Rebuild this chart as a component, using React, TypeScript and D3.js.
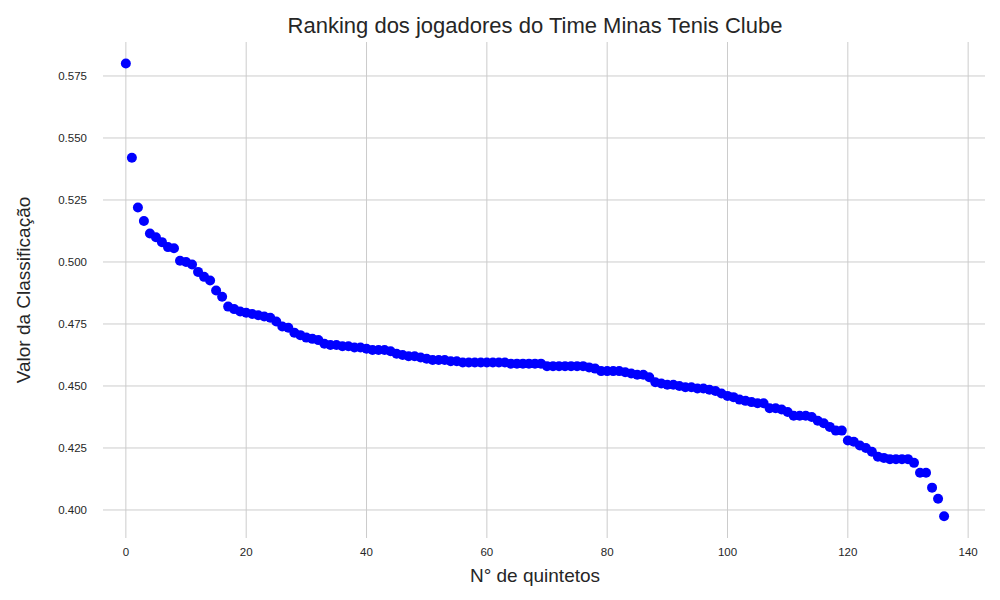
import React from "react";
import * as d3 from "d3";

const values: number[] = [
  0.58, 0.542, 0.522, 0.5165, 0.5115, 0.51, 0.508, 0.506, 0.5055, 0.5005,
  0.5, 0.499, 0.496, 0.494, 0.4925, 0.4885, 0.486, 0.482, 0.481, 0.48,
  0.4795, 0.479, 0.4785, 0.478, 0.4775, 0.476, 0.474, 0.4735, 0.4715, 0.4705,
  0.4695, 0.469, 0.4685, 0.467, 0.4665, 0.4665, 0.466, 0.466, 0.4655, 0.4655,
  0.465, 0.4645, 0.4645, 0.4645, 0.464, 0.463, 0.4625, 0.462, 0.462, 0.4615,
  0.461, 0.4605, 0.4605, 0.4605, 0.46, 0.46, 0.4595, 0.4595, 0.4595, 0.4595,
  0.4595, 0.4595, 0.4595, 0.4595, 0.459, 0.459, 0.459, 0.459, 0.459, 0.459,
  0.458, 0.458, 0.458, 0.458, 0.458, 0.458, 0.458, 0.4575, 0.457, 0.456,
  0.456, 0.456, 0.456, 0.4555, 0.455, 0.4545, 0.4545, 0.4535, 0.4515, 0.451,
  0.4505, 0.4505, 0.45, 0.4495, 0.4495, 0.449, 0.449, 0.4485, 0.448, 0.447,
  0.446, 0.4455, 0.4445, 0.444, 0.4435, 0.443, 0.443, 0.441, 0.441, 0.4405,
  0.4395, 0.438, 0.438, 0.438, 0.4375, 0.436, 0.435, 0.4335, 0.432, 0.432,
  0.428, 0.4275, 0.426, 0.425, 0.4235, 0.4215, 0.421, 0.4205, 0.4205, 0.4205,
  0.4205, 0.419, 0.415, 0.415, 0.409, 0.4045, 0.3975,
];
const xTicks = [0, 20, 40, 60, 80, 100, 120, 140];
const yTicks = [0.4, 0.425, 0.45, 0.475, 0.5, 0.525, 0.55, 0.575];

const W = 1000;
const H = 600;
const font = "'Liberation Sans', Arial, sans-serif";

export default function App() {
  const x = d3.scaleLinear().domain([-3.8, 142.8]).range([103, 985]);
  const y = d3.scaleLinear().domain([0.3887, 0.5887]).range([538, 42]);
  return (
    <svg width={W} height={H} style={{ position: "absolute", left: 0, top: 0 }}>
      <rect width={W} height={H} fill="#fff" />
      {xTicks.map((t) => (
        <g key={"x" + t}>
          <line x1={x(t)} x2={x(t)} y1={42} y2={538} stroke="#cccccc" strokeWidth={1} />
          <text x={x(t)} y={556} textAnchor="middle" fontSize={11.5} fontFamily={font} fill="#262626">
            {t}
          </text>
        </g>
      ))}
      {yTicks.map((t) => (
        <g key={"y" + t}>
          <line x1={103} x2={985} y1={y(t)} y2={y(t)} stroke="#cccccc" strokeWidth={1} />
          <text x={87} y={y(t) + 4} textAnchor="end" fontSize={11.5} fontFamily={font} fill="#262626">
            {d3.format(".3f")(t)}
          </text>
        </g>
      ))}
      {values.map((v, i) => (
        <circle key={i} cx={x(i)} cy={y(v)} r={5} fill="#0000ff" />
      ))}
      <text x={535} y={33} textAnchor="middle" fontSize={22} fontFamily={font} fill="#262626">
        Ranking dos jogadores do Time Minas Tenis Clube
      </text>
      <text x={535} y={582} textAnchor="middle" fontSize={19} fontFamily={font} fill="#262626">
        N° de quintetos
      </text>
      <text
        transform={`translate(30,290) rotate(-90)`}
        textAnchor="middle"
        fontSize={19}
        fontFamily={font}
        fill="#262626"
      >
        Valor da Classificação
      </text>
    </svg>
  );
}
